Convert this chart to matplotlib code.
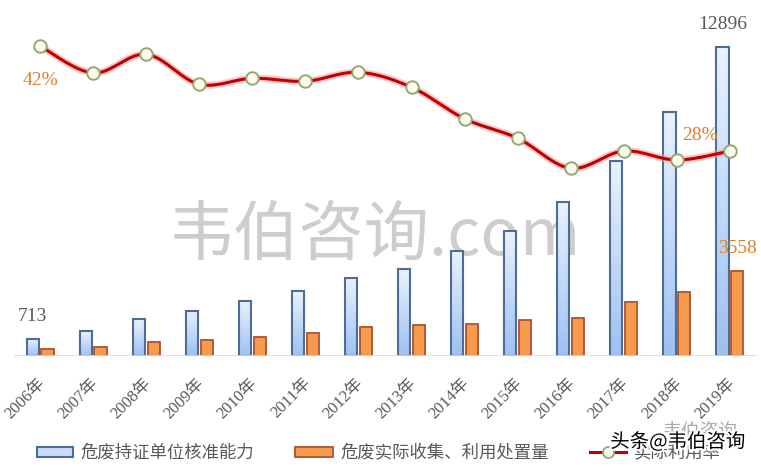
import numpy as np
import matplotlib
matplotlib.use('Agg')
import matplotlib.pyplot as plt
from matplotlib.patches import Rectangle
from matplotlib.lines import Line2D
from matplotlib.colors import LinearSegmentedColormap
import matplotlib.patheffects as pe
import matplotlib.transforms as mtransforms

years = ['2006年', '2007年', '2008年', '2009年', '2010年', '2011年', '2012年',
         '2013年', '2014年', '2015年', '2016年', '2017年', '2018年', '2019年']
capacity = [713, 1040, 1540, 1880, 2290, 2710, 3250, 3630, 4380, 5210, 6420, 8130, 10180, 12896]
actual = [290, 375, 580, 670, 790, 960, 1210, 1290, 1340, 1500, 1590, 2250, 2670, 3558]
rate = [42.0, 38.4, 40.9, 36.9, 37.7, 37.3, 38.5, 36.5, 32.3, 29.7, 25.7, 28.0, 26.8, 28.0]
legend_labels = ['危废持证单位核准能力', '危废实际收集、利用处置量', '实际利用率']

CJK = ['Noto Sans CJK SC', 'DejaVu Sans']
SERIF_CJK = ['Liberation Serif', 'Noto Sans CJK SC']
GRAY = '#595959'
ORANGE_TXT = '#D9822B'

W, H = 761, 467
fig = plt.figure(figsize=(W / 100, H / 100), dpi=100)
fig.patch.set_facecolor('white')

def fx(px):
    return px / W

def fy(py):
    return 1 - py / H

left, right, top, base = 13.5, 756.5, 20, 356
ax = fig.add_axes([fx(left), fy(base), fx(right - left), (base - top) / H])
ax2 = ax.twinx()

n = len(years)
x = np.arange(n)
bw = 0.23
off = 0.14

# center watermark (behind bars)
ax.text(fx(375), fy(236), '韦伯咨询.com', transform=fig.transFigure, family=CJK, fontsize=47,
        color='#CDCDCD', ha='center', va='center', fontweight='light', zorder=1)

blue_bars = ax.bar(x - off, capacity, bw, facecolor='none', edgecolor='#4F6C94', linewidth=1.5, zorder=3)
orange_bars = ax.bar(x + off, actual, bw, facecolor='#F79A4E', edgecolor='#A9532F', linewidth=1.3, zorder=3)

cmap = LinearSegmentedColormap.from_list('bl', ['#9DC1F2', '#E9F2FE'])
grad = np.linspace(0, 1, 64).reshape(-1, 1)
for r in blue_bars:
    bx, by, bwid, bh = r.get_x(), r.get_y(), r.get_width(), r.get_height()
    im = ax.imshow(grad, extent=[bx, bx + bwid, by, by + bh], origin='lower',
                   aspect='auto', cmap=cmap, zorder=2.9, interpolation='bilinear')
    im.set_clip_path(r)

ax.set_xlim(-0.5, n - 0.5)
ax.set_ylim(0, 14023)
ax2.set_ylim(0.667, 45.47)

ax.axhline(0, color='#D9D9D9', linewidth=1.2, zorder=4)

for a in (ax, ax2):
    for s in a.spines.values():
        s.set_visible(False)
ax.set_yticks([])
ax2.set_yticks([])
ax.set_xticks(x)
ax.set_xticklabels(years, rotation=45, ha='right', va='top', rotation_mode='anchor',
                   family=SERIF_CJK, fontsize=12, color=GRAY)
ax.tick_params(axis='x', length=0, pad=14)
shift = mtransforms.ScaledTranslation(-3 / 100, 0, fig.dpi_scale_trans)
for lab in ax.get_xticklabels():
    lab.set_transform(lab.get_transform() + shift)

# smooth line (Catmull-Rom) through rate points
def catmull(xs, ys, steps=20):
    P = np.column_stack([xs, ys]).astype(float)
    P = np.vstack([P[0], P, P[-1]])
    out = []
    for i in range(1, len(P) - 2):
        p0, p1, p2, p3 = P[i - 1], P[i], P[i + 1], P[i + 2]
        for t in np.linspace(0, 1, steps, endpoint=False):
            t2, t3 = t * t, t * t * t
            pt = 0.5 * ((2 * p1) + (-p0 + p2) * t + (2 * p0 - 5 * p1 + 4 * p2 - p3) * t2 +
                        (-p0 + 3 * p1 - 3 * p2 + p3) * t3)
            out.append(pt)
    out.append(P[-2])
    out = np.array(out)
    return out[:, 0], out[:, 1]

sx, sy = catmull(x, rate)
ax2.plot(sx, sy, color='#F5A3A3', linewidth=5, alpha=0.6, zorder=5, solid_capstyle='round')
ax2.plot(sx, sy, color='#C00000', linewidth=2.2, zorder=6)
ax2.plot(x, rate, linestyle='none', marker='o', markersize=9, markerfacecolor='#FBFCEE',
         markeredgecolor='#95A872', markeredgewidth=1.4, zorder=7)

# data labels
ax.annotate(f'{capacity[0]}', (x[0] - off, capacity[0]), xytext=(0, 16), textcoords='offset points',
            ha='center', va='center', family='Liberation Serif', fontsize=14, color=GRAY)
ax.annotate(f'{capacity[-1]}', (x[-1] - off, capacity[-1]), xytext=(0, 16), textcoords='offset points',
            ha='center', va='center', family='Liberation Serif', fontsize=14, color=GRAY)
ax.annotate(f'{actual[-1]}', (x[-1] + off, actual[-1]), xytext=(0, 16), textcoords='offset points',
            ha='center', va='center', family='Liberation Serif', fontsize=14, color=ORANGE_TXT)
ax2.annotate(f'{rate[0]:.0f}%', (x[0], rate[0]), xytext=(0, -24.5), textcoords='offset points',
             ha='center', va='center', family='Liberation Serif', fontsize=14, color=ORANGE_TXT, zorder=8)
ax2.annotate(f'{rate[-1]:.0f}%', (x[-1], rate[-1]), xytext=(-21.5, 11), textcoords='offset points',
             ha='center', va='center', family='Liberation Serif', fontsize=14, color=ORANGE_TXT, zorder=8)

# legend (manual)
ly = 452
fig.patches.append(Rectangle((fx(37), fy(ly + 5)), fx(36), 10 / H, transform=fig.transFigure,
                             facecolor='#C8DCF6', edgecolor='#4F6C94', linewidth=1.5))
fig.text(fx(80), fy(ly), legend_labels[0], family=CJK, fontsize=12.5, color=GRAY, va='center', ha='left')
fig.patches.append(Rectangle((fx(295), fy(ly + 5)), fx(38), 10 / H, transform=fig.transFigure,
                             facecolor='#F79A4E', edgecolor='#A9532F', linewidth=1.3))
fig.text(fx(340), fy(ly), legend_labels[1], family=CJK, fontsize=12.5, color=GRAY, va='center', ha='left')
fig.lines.append(Line2D([fx(590), fx(626)], [fy(ly), fy(ly)], transform=fig.transFigure,
                        color='#C00000', linewidth=2.2))
fig.lines.append(Line2D([fx(608)], [fy(ly)], transform=fig.transFigure, marker='o', markersize=8,
                        markerfacecolor='#FBFCEE', markeredgecolor='#95A872', markeredgewidth=1.3))
fig.text(fx(634), fy(ly), legend_labels[2], family=CJK, fontsize=12.5, color=GRAY, va='center', ha='left')

# bottom-right watermark
fig.text(fx(662), fy(431), '韦伯咨询', family=CJK, fontsize=13.5, color='#AAAAAA', ha='left', va='center')
fig.text(fx(678), fy(442), '头条@韦伯咨询', family=CJK, fontsize=14, color='black', ha='center', va='center',
         path_effects=[pe.withStroke(linewidth=3, foreground='white')])

fig.savefig('out.png', dpi=100, facecolor='white')
